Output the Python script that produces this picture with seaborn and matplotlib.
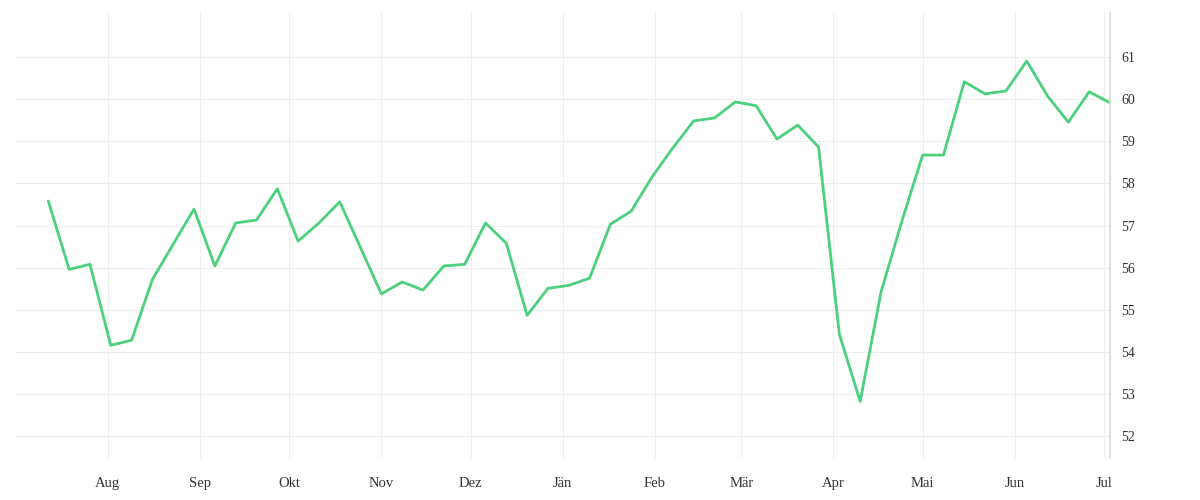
import pandas as pd
import matplotlib.pyplot as plt
import seaborn as sns

start = "2019-07-12"
values = [57.58, 55.96, 56.08, 54.16, 54.28, 55.72, 56.56, 57.39, 56.04, 57.06,
          57.13, 57.87, 56.63, 57.06, 57.56, 56.47, 55.38, 55.66, 55.47, 56.04,
          56.08, 57.06, 56.58, 54.87, 55.51, 55.58, 55.75, 57.03, 57.34, 58.15,
          58.84, 59.48, 59.55, 59.93, 59.84, 59.05, 59.38, 58.86, 54.42, 52.83,
          55.42, 57.10, 58.67, 58.67, 60.41, 60.12, 60.19, 60.90, 60.07, 59.45,
          60.17, 59.91]
month_labels = ["Aug", "Sep", "Okt", "Nov", "Dez", "Jän", "Feb", "Mär", "Apr", "Mai", "Jun", "Jul"]

dates = pd.date_range(start, periods=len(values), freq="7D")
df = pd.DataFrame({"date": dates, "value": values})

sns.set_theme(style="white")
plt.rcParams["font.family"] = ["Liberation Serif", "DejaVu Serif"]

fig, ax = plt.subplots(figsize=(12, 5), dpi=100)
fig.subplots_adjust(left=0.013, right=0.925, top=0.975, bottom=0.085)
sns.lineplot(data=df, x="date", y="value", color="#4cd07d", linewidth=2.0, ax=ax)

ticks = pd.date_range("2019-08-01", periods=12, freq="MS")
ax.set_xticks(ticks)
ax.set_xticklabels(month_labels, fontsize=10.5, color="#333333")
ax.set_xlim(pd.Timestamp("2019-07-01"), pd.Timestamp("2020-07-03"))
ax.set_ylim(51.5, 62.05)
ax.set_yticks(range(52, 62))
ax.yaxis.tick_right()
ax.tick_params(axis="y", labelsize=10, colors="#333333", length=0, pad=8)
ax.tick_params(axis="x", length=0, pad=14)
ax.grid(True, color="#eeeeee", linewidth=0.8)
for s in ["top", "left", "bottom"]:
    ax.spines[s].set_visible(False)
ax.spines["right"].set_color("#dddddd")
ax.set_xlabel("")
ax.set_ylabel("")
fig.savefig("out.png")
